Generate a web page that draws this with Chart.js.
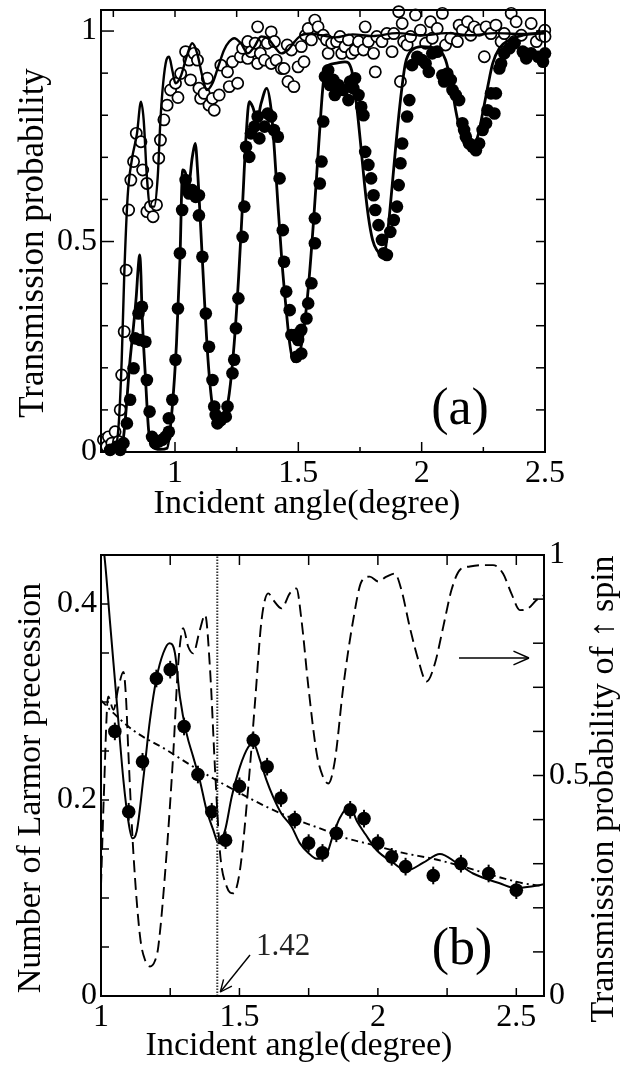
<!DOCTYPE html>
<html><head><meta charset="utf-8">
<script src="https://cdn.jsdelivr.net/npm/chart.js@4.4.0/dist/chart.umd.min.js"></script>
<style>
html,body{margin:0;padding:0;background:#fff;}
#wrap{position:relative;width:637px;height:1067px;overflow:hidden;}
canvas{position:absolute;left:0;}
#ca{top:0;} #cb{top:530px;}
</style></head>
<body><div id="wrap"><canvas id="ca" width="637" height="530"></canvas><canvas id="cb" width="637" height="537"></canvas></div>
<script>
// ---------- Panel (a) data ----------
const aOpenX = [0.710,0.723,0.730,0.744,0.757,0.771,0.778,0.784,0.794,0.802,0.812,0.821,0.832,0.843,0.862,0.869,0.886,0.886,0.900,0.911,0.925,0.934,0.941,0.955,0.968,0.982,1.002,1.012,1.023,1.043,1.057,1.063,1.077,1.091,1.097,1.104,1.118,1.131,1.138,1.152,1.159,1.179,1.186,1.213,1.220,1.233,1.254,1.265,1.274,1.295,1.295,1.308,1.325,1.335,1.335,1.346,1.363,1.374,1.390,1.390,1.403,1.410,1.431,1.442,1.455,1.458,1.472,1.482,1.499,1.512,1.523,1.529,1.540,1.553,1.567,1.580,
 1.601,1.614,1.621,1.635,1.655,1.669,1.676,1.689,1.703,1.716,1.730,1.744,1.764,1.771,1.784,1.805,1.812,1.818,1.839,1.859,1.880,1.887,1.907,1.921,1.927,1.914,1.941,1.955,1.975,1.995,2.016,2.036,2.043,2.063,2.084,2.097,2.118,2.145,2.152,2.165,2.186,2.199,2.213,2.233,2.254,2.261,2.281,2.301,2.322,2.335,2.363,2.376,2.383,2.404,2.417,2.444,2.465,2.485,2.499,2.500];
const aOpenY = [0.029,0.013,0.036,0.021,0.048,0.025,0.100,0.183,0.286,0.432,0.575,0.646,0.690,0.757,0.737,0.670,0.638,0.571,0.583,0.559,0.587,0.698,0.741,0.789,0.824,0.860,0.876,0.842,0.899,0.951,0.931,0.884,0.947,0.931,0.864,0.840,0.852,0.888,0.824,0.840,0.812,0.848,0.919,0.903,0.868,0.927,0.876,0.939,0.959,0.935,0.975,0.951,0.971,1.010,0.923,0.947,0.931,0.971,0.998,0.923,0.975,0.931,0.911,0.911,0.967,0.880,0.955,0.868,0.915,0.963,0.927,0.990,1.006,0.979,1.026,1.010,
 0.990,0.979,0.947,0.971,0.975,0.987,0.947,0.963,0.979,0.947,0.955,0.975,0.955,1.010,0.975,0.947,0.903,0.987,0.975,0.994,0.951,0.994,1.046,1.018,0.975,0.880,0.967,0.987,1.038,1.002,0.971,1.022,0.983,1.006,1.042,0.967,0.983,0.975,1.014,1.002,1.022,0.990,1.010,1.002,0.939,1.010,0.994,1.014,0.975,0.994,1.042,0.975,1.022,0.990,0.947,1.018,0.975,0.990,1.002,0.987];
const aFilledX = [0.737,0.764,0.778,0.791,0.805,0.818,0.832,0.839,0.852,0.866,0.859,0.880,0.886,0.897,0.907,0.920,0.934,0.948,0.961,0.975,0.975,0.989,1.002,1.012,1.020,1.029,1.043,1.050,1.057,1.070,1.084,1.097,1.097,1.111,1.125,1.138,1.152,1.159,1.165,1.172,1.186,1.206,1.213,1.233,1.240,1.247,1.257,1.274,1.281,1.288,1.301,1.308,1.322,1.335,1.342,1.363,1.376,1.390,1.401,1.417,1.424,1.437,1.442,1.451,1.465,1.472,1.485,1.499,1.512,1.492,1.512,1.533,1.540,1.553,1.567,1.567,1.587,1.594,1.601,
 1.608,1.621,1.628,1.642,1.648,1.662,1.682,1.703,1.710,1.723,1.730,1.744,1.755,1.764,1.771,1.784,1.795,1.805,1.812,1.825,1.839,1.846,1.859,1.873,1.887,1.900,1.907,1.914,1.921,1.941,1.950,1.961,1.982,2.002,2.016,2.029,2.043,2.063,2.084,2.091,2.104,2.118,2.125,2.138,2.152,2.165,2.172,2.179,2.193,2.206,2.220,2.233,2.247,2.261,2.267,2.281,2.295,2.301,2.315,2.322,2.335,2.356,2.376,2.410,2.424,2.444,2.472,2.492,2.500];
const aFilledY = [0.005,0.013,0.005,0.021,0.068,0.124,0.199,0.270,0.329,0.345,0.266,0.262,0.171,0.096,0.036,0.021,0.025,0.029,0.036,0.048,0.080,0.124,0.219,0.341,0.472,0.575,0.646,0.622,0.614,0.622,0.606,0.610,0.562,0.464,0.329,0.250,0.171,0.108,0.088,0.068,0.076,0.084,0.108,0.187,0.219,0.294,0.365,0.511,0.583,0.725,0.701,0.757,0.773,0.797,0.745,0.773,0.804,0.797,0.765,0.749,0.650,0.527,0.452,0.381,0.337,0.278,0.278,0.266,0.290,0.226,0.234,0.317,0.353,0.401,0.496,0.555,0.638,0.690,0.785,
 0.892,0.907,0.872,0.884,0.848,0.872,0.860,0.836,0.880,0.864,0.888,0.848,0.820,0.800,0.713,0.682,0.650,0.610,0.575,0.539,0.504,0.472,0.468,0.523,0.551,0.583,0.634,0.686,0.733,0.797,0.836,0.919,0.939,0.931,0.923,0.903,0.947,0.951,0.895,0.880,0.899,0.884,0.860,0.848,0.836,0.781,0.765,0.749,0.733,0.725,0.717,0.733,0.765,0.781,0.812,0.852,0.804,0.852,0.911,0.923,0.947,0.959,0.971,0.951,0.935,0.947,0.939,0.927,0.947];
const aOpenFitX = [0.70,0.75,0.771,0.784,0.794,0.808,0.825,0.846,0.862,0.873,0.886,0.900,0.916,0.930,0.941,0.952,0.965,0.976,0.989,1.002,1.023,1.047,1.070,1.090,1.111,1.129,1.152,1.175,1.199,1.220,1.240,1.267,1.295,1.322,1.349,1.376,1.403,1.431,1.458,1.485,1.512,1.553,1.594,1.65,1.72,1.80,1.90,2.00,2.10,2.20,2.30,2.40,2.50];
const aOpenFitY = [0.0,0.0,0.06,0.219,0.416,0.607,0.694,0.757,0.832,0.789,0.654,0.583,0.583,0.654,0.789,0.876,0.931,0.939,0.907,0.876,0.892,0.939,0.971,0.947,0.892,0.860,0.876,0.915,0.955,0.975,0.983,0.971,0.947,0.963,0.987,0.983,0.963,0.947,0.955,0.975,0.990,0.994,0.990,0.985,0.992,0.988,0.995,0.990,0.995,0.990,0.995,0.993,0.995];
const aFilledFitX = [0.70,0.77,0.79,0.818,0.832,0.843,0.851,0.857,0.862,0.866,0.880,0.893,0.907,0.940,0.968,0.988,1.006,1.020,1.031,1.043,1.054,1.070,1.082,1.093,1.104,1.118,1.134,1.152,1.172,1.199,1.220,1.240,1.258,1.274,1.288,1.301,1.315,1.333,1.349,1.372,1.390,1.403,1.417,1.433,1.451,1.465,1.482,1.501,1.522,1.542,1.563,1.583,1.601,1.614,1.648,1.689,1.716,1.737,1.755,1.768,1.784,1.801,1.818,1.846,1.863,1.880,1.896,1.914,1.934,1.961,2.002,2.057,2.097,2.122,2.138,2.159,2.179,2.206,2.227,2.247,2.268,2.288,2.315,2.356,2.410,2.500];
const aFilledFitY = [0.0,0.005,0.03,0.22,0.30,0.37,0.44,0.468,0.42,0.337,0.179,0.052,0.013,0.006,0.009,0.10,0.258,0.456,0.67,0.662,0.63,0.70,0.733,0.654,0.535,0.377,0.218,0.108,0.068,0.08,0.139,0.258,0.416,0.59,0.749,0.832,0.82,0.789,0.828,0.864,0.812,0.717,0.59,0.456,0.337,0.258,0.215,0.226,0.29,0.40,0.559,0.733,0.876,0.915,0.923,0.927,0.907,0.82,0.717,0.638,0.559,0.504,0.48,0.468,0.527,0.63,0.733,0.836,0.923,0.955,0.963,0.959,0.931,0.868,0.812,0.757,0.725,0.721,0.749,0.804,0.868,0.923,0.959,0.979,0.99,0.996];
const aXTickLabels = [1, 1.5, 2, 2.5];
const aYTickLabels = [0, 0.5, 1];
const aXTickMarks = [0.75, 1, 1.25, 1.5, 1.75, 2, 2.25];
const aYTickMarks = [0.1, 0.2, 0.3, 0.4, 0.5, 0.6, 0.7, 0.8, 0.9, 1];

// ---------- Panel (b) data ----------
const bDotX = [1.05,1.10,1.15,1.20,1.25,1.30,1.35,1.40,1.45,1.50,1.55,1.60,1.65,1.70,1.75,1.80,1.85,1.90,1.95,2.00,2.05,2.10,2.20,2.30,2.40,2.50];
const bDotY = [0.270,0.188,0.239,0.324,0.333,0.275,0.226,0.188,0.159,0.214,0.261,0.234,0.202,0.180,0.156,0.146,0.166,0.190,0.181,0.156,0.142,0.132,0.123,0.135,0.125,0.108];
const bDotErr = [0.009,0.009,0.009,0.009,0.009,0.009,0.009,0.009,0.009,0.009,0.009,0.009,0.009,0.009,0.009,0.009,0.009,0.009,0.009,0.009,0.009,0.009,0.009,0.009,0.009,0.009];
const bTheoryX = [1.0,1.012,1.033,1.057,1.081,1.099,1.113,1.129,1.153,1.177,1.201,1.225,1.247,1.267,1.285,1.309,1.333,1.357,1.381,1.406,1.424,1.448,1.472,1.502,1.532,1.550,1.574,1.598,1.622,1.652,1.688,1.718,1.749,1.779,1.81,1.839,1.863,1.899,1.925,1.955,1.995,2.055,2.103,2.164,2.224,2.284,2.344,2.44,2.50,2.56,2.60];
const bTheoryY = [0.47,0.45,0.38,0.30,0.22,0.178,0.161,0.168,0.222,0.282,0.325,0.350,0.360,0.350,0.305,0.268,0.244,0.220,0.190,0.169,0.156,0.169,0.203,0.234,0.254,0.258,0.241,0.220,0.203,0.186,0.173,0.156,0.146,0.140,0.142,0.165,0.182,0.193,0.178,0.165,0.149,0.136,0.128,0.136,0.145,0.136,0.125,0.115,0.110,0.112,0.114];
const bFitX = [1.0,1.033,1.117,1.237,1.333,1.418,1.502,1.598,1.694,1.791,1.863,1.983,2.091,2.2,2.308,2.416,2.525,2.6];
const bFitY = [0.302,0.292,0.271,0.251,0.234,0.220,0.207,0.193,0.181,0.171,0.163,0.154,0.146,0.140,0.132,0.123,0.115,0.112];
const bSpinX = [1.0,1.01,1.026,1.045,1.063,1.081,1.090,1.099,1.117,1.141,1.160,1.177,1.195,1.207,1.237,1.261,1.279,1.297,1.315,1.333,1.357,1.376,1.394,1.412,1.43,1.454,1.478,1.502,1.532,1.556,1.580,1.604,1.622,1.652,1.682,1.706,1.724,1.749,1.779,1.80,1.821,1.845,1.875,1.911,1.941,1.971,2.001,2.031,2.061,2.085,2.115,2.146,2.176,2.206,2.236,2.266,2.296,2.332,2.380,2.416,2.452,2.482,2.513,2.543,2.573,2.6];
const bSpinY = [0.25,0.45,0.679,0.649,0.70,0.735,0.68,0.550,0.324,0.135,0.08,0.067,0.08,0.112,0.324,0.550,0.754,0.834,0.792,0.777,0.830,0.864,0.739,0.512,0.324,0.248,0.233,0.286,0.475,0.664,0.853,0.913,0.898,0.879,0.913,0.924,0.853,0.701,0.550,0.50,0.482,0.535,0.701,0.853,0.940,0.951,0.940,0.951,0.958,0.921,0.837,0.762,0.713,0.754,0.837,0.921,0.966,0.974,0.977,0.977,0.958,0.913,0.875,0.879,0.898,0.909];
const bMarkerAngle = 1.42;
const bMarkerLabel = '1.42';
const bXTickLabels = [1, 1.5, 2, 2.5];
const bYTickLabels = [0, 0.2, 0.4];
const bY1TickLabels = [0, 0.5, 1];
const bXTickMarks = [1.25, 1.5, 1.75, 2, 2.25, 2.5];
const bYTickMarks = [0.05, 0.1, 0.15, 0.2, 0.25, 0.3, 0.35, 0.4];
const bY1TickMarks = [0.1, 0.2, 0.3, 0.4, 0.5, 0.6, 0.7, 0.8, 0.9];

// ---------- helpers ----------
const FONT = "'Liberation Serif','Times New Roman',serif";
const pts = (xs, ys) => xs.map((x, i) => ({x: x, y: ys[i]}));
const tickFont = {family: FONT, size: 32};

function seg(ctx, x1, y1, x2, y2) { ctx.beginPath(); ctx.moveTo(x1, y1); ctx.lineTo(x2, y2); ctx.stroke(); }
function arrow(ctx, x1, y1, x2, y2, hl) {
  seg(ctx, x1, y1, x2, y2);
  const ang = Math.atan2(y2 - y1, x2 - x1), sp = 0.42;
  seg(ctx, x2, y2, x2 - hl * Math.cos(ang - sp), y2 - hl * Math.sin(ang - sp));
  seg(ctx, x2, y2, x2 - hl * Math.cos(ang + sp), y2 - hl * Math.sin(ang + sp));
}
function rotText(ctx, text, x, y, size) {
  ctx.save(); ctx.translate(x, y); ctx.rotate(-Math.PI / 2);
  ctx.font = size + 'px ' + FONT; ctx.textAlign = 'center'; ctx.textBaseline = 'alphabetic';
  ctx.fillText(text, 0, 0); ctx.restore();
}
function frameTicks(chart, specs) {
  const ctx = chart.ctx, a = chart.chartArea;
  ctx.save();
  ctx.strokeStyle = '#000'; ctx.lineWidth = 2;
  ctx.strokeRect(a.left, a.top, a.right - a.left, a.bottom - a.top);
  ctx.lineWidth = 1.5;
  specs.forEach(s => {
    const sc = chart.scales[s.axis];
    s.values.forEach(v => {
      const p = sc.getPixelForValue(v);
      const L = (s.major && s.major.indexOf(v) >= 0) ? s.majorLen : s.len;
      if (s.side === 'bottom') seg(ctx, p, a.bottom, p, a.bottom - L);
      if (s.side === 'top') seg(ctx, p, a.top, p, a.top + L);
      if (s.side === 'left') seg(ctx, a.left, p, a.left + L, p);
      if (s.side === 'right') seg(ctx, a.right, p, a.right - L, p);
    });
  });
  ctx.restore();
}
function xAxis(min, max, labels, h, pad) {
  return {type: 'linear', min: min, max: max, grid: {display: false, drawTicks: false}, border: {display: false},
    afterBuildTicks: s => { s.ticks = labels.map(v => ({value: v})); },
    afterFit: s => { s.height = h; s.paddingLeft = 0; s.paddingRight = 0; },
    ticks: {font: tickFont, color: '#000', padding: pad, maxRotation: 0, minRotation: 0, autoSkip: false, callback: v => String(v)}};
}
function yAxis(min, max, labels, w, pos, pad) {
  return {type: 'linear', position: pos, min: min, max: max, grid: {display: false, drawTicks: false}, border: {display: false},
    afterBuildTicks: s => { s.ticks = labels.map(v => ({value: v})); },
    afterFit: s => { s.width = w; s.paddingTop = 0; s.paddingBottom = 0; },
    ticks: {font: tickFont, color: '#000', padding: pad, autoSkip: false, callback: v => String(v)}};
}
const baseOpts = {responsive: false, animation: false, devicePixelRatio: 1, events: [],
  plugins: {legend: {display: false}, tooltip: {enabled: false}}};

// ---------- Panel (a) ----------
const decorA = {id: 'decorA', afterDatasetsDraw(chart) {
  frameTicks(chart, [
    {axis: 'x', side: 'bottom', values: aXTickMarks, len: 5, major: [1, 1.5, 2], majorLen: 10},
    {axis: 'x', side: 'top', values: aXTickMarks, len: 7},
    {axis: 'y', side: 'left', values: aYTickMarks, len: 7, major: [0.5, 1], majorLen: 13},
    {axis: 'y', side: 'right', values: aYTickMarks, len: 9}
  ]);
  const ctx = chart.ctx; ctx.save(); ctx.fillStyle = '#000';
  ctx.font = '34px ' + FONT; ctx.textAlign = 'center'; ctx.textBaseline = 'alphabetic';
  ctx.fillText('Incident angle(degree)', 307, 513);
  rotText(ctx, 'Transmission probability', 43, 243, 35);
  ctx.font = '52px ' + FONT; ctx.textBaseline = 'middle';
  ctx.fillText('(a)', 460, 410);
  ctx.restore();
}};
new Chart(document.getElementById('ca'), {
  type: 'scatter',
  data: {datasets: [
    {data: pts(aFilledFitX, aFilledFitY), showLine: true, borderColor: '#000', borderWidth: 2.8, pointRadius: 0, cubicInterpolationMode: 'monotone'},
    {data: pts(aOpenFitX, aOpenFitY), showLine: true, borderColor: '#000', borderWidth: 2.4, pointRadius: 0, cubicInterpolationMode: 'monotone'},
    {data: pts(aFilledX, aFilledY), pointRadius: 6.3, backgroundColor: '#000', borderColor: '#000', borderWidth: 0, clip: 10},
    {data: pts(aOpenX, aOpenY), pointRadius: 5.6, backgroundColor: '#fff', borderColor: '#000', borderWidth: 1.7, clip: 10}
  ]},
  options: Object.assign({}, baseOpts, {
    layout: {padding: {left: 0, right: 92, top: 10, bottom: 0}},
    scales: {x: xAxis(0.7, 2.5, aXTickLabels, 78, 2), y: yAxis(0, 1.05, aYTickLabels, 101, 'left', 4)}
  }),
  plugins: [decorA]
});

// ---------- Panel (b) ----------
const decorB = {id: 'decorB',
  afterDatasetsDraw(chart) {
    const ctx = chart.ctx, xs = chart.scales.x, ys = chart.scales.y;
    ctx.save(); ctx.strokeStyle = '#000'; ctx.lineWidth = 2;
    bDotX.forEach((x, i) => {
      const px = xs.getPixelForValue(x);
      seg(ctx, px, ys.getPixelForValue(bDotY[i] - bDotErr[i]), px, ys.getPixelForValue(bDotY[i] + bDotErr[i]));
    });
    ctx.restore();
    frameTicks(chart, [
      {axis: 'x', side: 'bottom', values: bXTickMarks, len: 8},
      {axis: 'x', side: 'top', values: bXTickMarks, len: 10},
      {axis: 'y', side: 'left', values: bYTickMarks, len: 8},
      {axis: 'y1', side: 'right', values: bY1TickMarks, len: 11}
    ]);
    ctx.save(); ctx.fillStyle = '#000'; ctx.strokeStyle = '#000';
    ctx.font = '34px ' + FONT; ctx.textAlign = 'center'; ctx.textBaseline = 'alphabetic';
    ctx.fillText('Incident angle(degree)', 299, 525);
    rotText(ctx, 'Number of Larmor precession', 40, 258, 34);
    rotText(ctx, 'Transmission probability of \u2191 spin', 613, 259, 34);
    ctx.font = '52px ' + FONT; ctx.textBaseline = 'middle';
    ctx.fillText('(b)', 462, 420);
    ctx.font = '31px ' + FONT; ctx.textAlign = 'left'; ctx.fillStyle = '#222';
    ctx.fillText(bMarkerLabel, 256, 417);
    ctx.lineWidth = 1.4;
    const mx = xs.getPixelForValue(bMarkerAngle);
    arrow(ctx, 250, 425, mx + 3, chart.chartArea.bottom - 4, 13);
    arrow(ctx, 459, 128, 529, 128, 17);
    ctx.restore();
  }};
new Chart(document.getElementById('cb'), {
  type: 'scatter',
  data: {datasets: [
    {data: pts(bSpinX, bSpinY), yAxisID: 'y1', showLine: true, borderColor: '#000', borderWidth: 1.9, borderDash: [12, 6], pointRadius: 0, cubicInterpolationMode: 'monotone'},
    {data: pts(bFitX, bFitY), yAxisID: 'y', showLine: true, borderColor: '#000', borderWidth: 1.9, borderDash: [7, 4, 2, 4], pointRadius: 0, cubicInterpolationMode: 'monotone'},
    {data: [{x: bMarkerAngle, y: 0}, {x: bMarkerAngle, y: 0.45}], yAxisID: 'y', showLine: true, borderColor: '#333', borderWidth: 2, borderDash: [1.5, 1.5], pointRadius: 0},
    {data: pts(bTheoryX, bTheoryY), yAxisID: 'y', showLine: true, borderColor: '#000', borderWidth: 2, pointRadius: 0, cubicInterpolationMode: 'monotone'},
    {data: pts(bDotX, bDotY), yAxisID: 'y', pointRadius: 6.8, backgroundColor: '#000', borderColor: '#000', borderWidth: 0, clip: 10}
  ]},
  options: Object.assign({}, baseOpts, {
    layout: {padding: {left: 0, right: 0, top: 25, bottom: 0}},
    scales: {
      x: xAxis(1, 2.6, bXTickLabels, 71, 2),
      y: yAxis(0, 0.45, bYTickLabels, 101, 'left', 4),
      y1: yAxis(0, 1, bY1TickLabels, 93, 'right', 5)
    }
  }),
  plugins: [decorB]
});
</script>
</body></html>
